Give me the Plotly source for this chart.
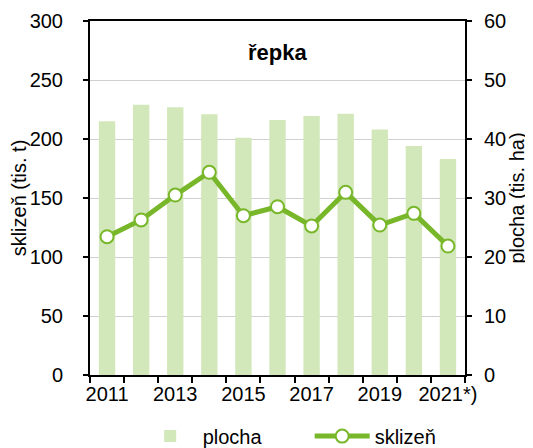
import plotly.graph_objects as go

years = [2011, 2012, 2013, 2014, 2015, 2016, 2017, 2018, 2019, 2020, 2021]
tick_years = [2011, 2013, 2015, 2017, 2019, 2021]
tick_labels = ["2011", "2013", "2015", "2017", "2019", "2021*)"]
plocha = [43.0, 45.8, 45.4, 44.2, 40.2, 43.2, 43.9, 44.3, 41.6, 38.8, 36.6]
sklizen = [117.2, 131.4, 152.5, 171.8, 135.0, 142.6, 126.3, 154.8, 127.1, 137.0, 109.3]

FONT = "Liberation Sans, Arial, sans-serif"
BAR_C = "#d3e8ba"
LINE_C = "#78b72a"

fig = go.Figure()
fig.add_trace(go.Bar(
    x=years, y=plocha, name="plocha", marker=dict(color=BAR_C, line=dict(width=0)),
    width=0.48, yaxis="y",
))
fig.add_trace(go.Scatter(
    x=years, y=sklizen, name="sklizeň", mode="lines+markers", yaxis="y2",
    line=dict(color=LINE_C, width=5),
    marker=dict(size=13, color="white", line=dict(color=LINE_C, width=2)),
))

fig.update_layout(
    width=525, height=440,
    margin=dict(l=82, r=68, t=13, b=73, autoexpand=False),
    paper_bgcolor="white", plot_bgcolor="white",
    font=dict(family=FONT, size=20, color="black"),
    showlegend=True,
    legend=dict(orientation="h", xref="container", yref="container",
                x=0.247, xanchor="left", y=0.027, yanchor="middle",
                font=dict(size=20), traceorder="normal", itemwidth=55,
                entrywidth=102, entrywidthmode="pixels",
                bgcolor="rgba(0,0,0,0)"),
    xaxis=dict(
        range=[2010.5, 2021.5], tickmode="array", tickvals=tick_years, ticktext=tick_labels,
        ticks="", showline=True, linecolor="black", linewidth=2, mirror=True,
        showgrid=False, zeroline=False, tickfont=dict(size=20),
        minor=dict(tickmode="linear", tick0=2010.5, dtick=1, ticks="outside",
                   ticklen=6, tickwidth=1.5, tickcolor="black", showgrid=False),
    ),
    yaxis=dict(
        side="right", range=[0, 60], dtick=10, ticks="outside", ticklen=5,
        tickwidth=1.5, tickcolor="black", showline=True, linecolor="black", linewidth=2,
        showgrid=True, gridcolor="#d0d0d0", gridwidth=1, zeroline=False,
        ticklabelstandoff=8,
        title=dict(text="plocha (tis. ha)", font=dict(size=20), standoff=1),
        tickfont=dict(size=20),
    ),
    yaxis2=dict(
        side="left", overlaying="y", range=[0, 300], dtick=50, ticks="outside", ticklen=5,
        tickwidth=1.5, tickcolor="black", showline=True, linecolor="black", linewidth=2,
        showgrid=False, zeroline=False,
        ticklabelstandoff=16,
        title=dict(text="sklizeň (tis. t)", font=dict(size=20), standoff=4),
        tickfont=dict(size=20),
    ),
    annotations=[dict(text="<b>řepka</b>", xref="paper", yref="paper", x=0.5, y=0.91,
                      xanchor="center", yanchor="middle", showarrow=False,
                      font=dict(size=22, family=FONT, color="black"))],
)

fig.write_html("out.html")
